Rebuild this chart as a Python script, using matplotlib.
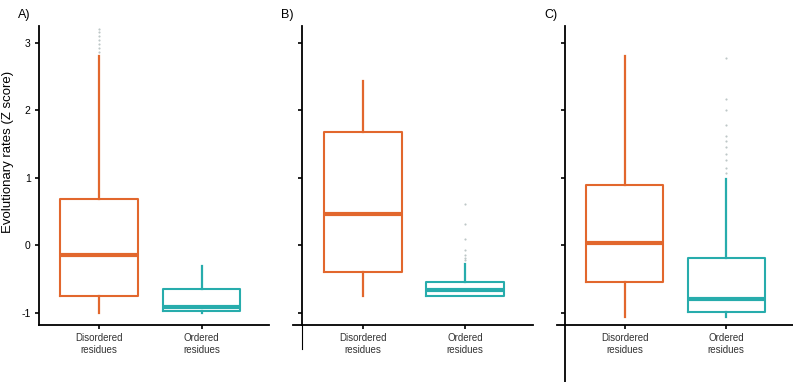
import matplotlib.pyplot as plt
from matplotlib.lines import Line2D

plt.rcParams['font.family'] = ['Liberation Sans', 'DejaVu Sans']

categories = ["Disordered\nresidues", "Ordered\nresidues"]
panels = ["A)", "B)", "C)"]

# box statistics per panel: [disordered, ordered]
q1 = [[-0.75, -0.97], [-0.39, -0.75], [-0.54, -0.99]]
med = [[-0.14, -0.91], [0.46, -0.66], [0.03, -0.80]]
q3 = [[0.68, -0.65], [1.68, -0.54], [0.89, -0.19]]
whislo = [[-1.0, -1.0], [-0.75, -0.75], [-1.06, -1.06]]
whishi = [[2.80, -0.30], [2.43, -0.27], [2.81, 0.98]]
fliers = [
    [[2.86, 2.92, 2.98, 3.04, 3.1, 3.16, 3.2], []],
    [[], [-0.22, -0.18, -0.15, -0.07, 0.09, 0.31, 0.62]],
    [[], [1.07, 1.15, 1.27, 1.36, 1.45, 1.55, 1.62, 1.78, 2.0, 2.17, 2.77]],
]

colors = ["#e2672d", "#27acac"]

fig = plt.figure(figsize=(7.93, 3.82), dpi=100)
W, H = 793, 382
lefts = [39, 302, 565]
widths = [230, 231, 228]
top_px, bot_px = 26, 325

axes = []
for i in range(3):
    ax = fig.add_axes([lefts[i] / W, 1 - bot_px / H, widths[i] / W, (bot_px - top_px) / H])
    axes.append(ax)
    for j in range(2):
        stats = [dict(q1=q1[i][j], med=med[i][j], q3=q3[i][j],
                      whislo=whislo[i][j], whishi=whishi[i][j], fliers=fliers[i][j])]
        c = colors[j]
        ax.bxp(stats, positions=[j + 1], widths=0.76, showfliers=True,
               boxprops=dict(color=c, linewidth=1.5),
               medianprops=dict(color=c, linewidth=3),
               whiskerprops=dict(color=c, linewidth=1.6),
               capprops=dict(linewidth=0),
               flierprops=dict(marker='.', markersize=1.0, markerfacecolor="#889999",
                               markeredgecolor="#889999", alpha=0.6))
    ax.set_xlim(0.41, 2.66)
    ax.set_ylim(-1.18, 3.25)
    ax.set_xticks([1, 2])
    ax.set_xticklabels(categories, fontsize=7, color="#333333")
    ax.set_yticks([-1, 0, 1, 2, 3])
    if i == 0:
        ax.set_yticklabels(["-1", "0", "1", "2", "3"], fontsize=7.5)
    else:
        ax.set_yticklabels([])
    ax.tick_params(axis='both', length=3, width=1.2, pad=3)
    for s in ["top", "right"]:
        ax.spines[s].set_visible(False)
    for s in ["left", "bottom"]:
        ax.spines[s].set_linewidth(1.3)
    fig.text((lefts[i] - 21) / W, 1 - 15 / H, panels[i], fontsize=9, va='center')

# extended spines in panels B and C
axb, axc = axes[1], axes[2]
axb.add_line(Line2D([0, 0], [0, -0.08], transform=axb.transAxes, color='black',
                    linewidth=0.8, clip_on=False))
axb.add_line(Line2D([-0.04, 0], [0, 0], transform=axb.transAxes, color='black',
                    linewidth=1.3, clip_on=False))
axc.add_line(Line2D([0, 0], [0, -0.2], transform=axc.transAxes, color='black',
                    linewidth=1.3, clip_on=False))
axc.add_line(Line2D([-0.035, 0], [0, 0], transform=axc.transAxes, color='black',
                    linewidth=1.3, clip_on=False))

fig.text(8 / W, 1 - 152 / H, "Evolutionary rates (Z score)", rotation=90,
         fontsize=9.5, va='center', ha='center')

fig.savefig("out.png", dpi=100)
